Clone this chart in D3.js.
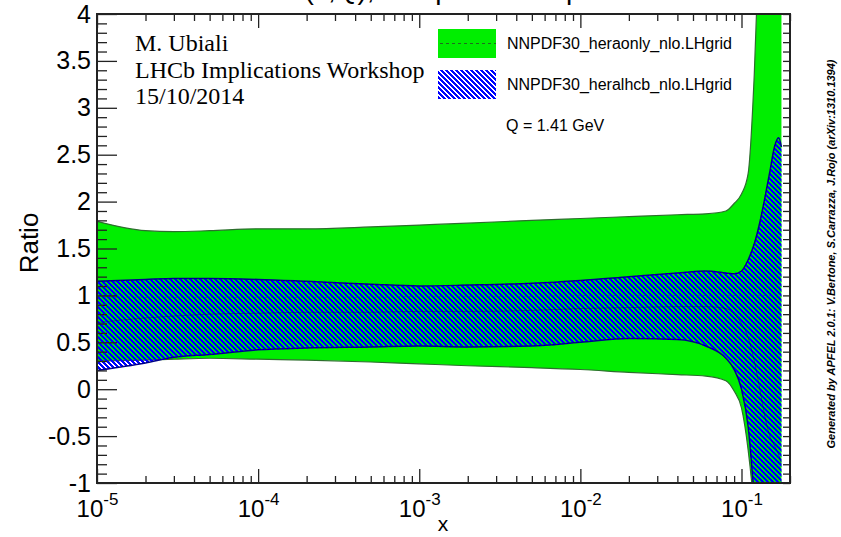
<!DOCTYPE html>
<html>
<head>
<meta charset="utf-8">
<script src="https://cdn.jsdelivr.net/npm/d3@7/dist/d3.min.js"></script>
<style>
  html, body { margin: 0; padding: 0; background: #fff; }
  svg { display: block; }
  text { font-family: "Liberation Sans", Arial, Helvetica, sans-serif; fill: #000; }
  .serif { font-family: "Liberation Serif", "Times New Roman", serif; }
</style>
</head>
<body>
<svg id="chart" width="841" height="537"></svg>
<script>
// x grid shared by both PDF sets
const xValues = [1e-5, 2e-5, 3e-5, 5e-5, 1e-4, 2e-4, 5e-4, 1e-3, 2e-3, 5e-3,
                 1e-2, 2e-2, 4e-2, 6e-2, 8e-2, 0.09, 0.10, 0.11, 0.12, 0.13,
                 0.14, 0.15, 0.16, 0.17, 0.177];

// NNPDF30_heraonly_nlo: ratio band (upper / lower / central)
const heraonlyUpper = [1.79, 1.69, 1.68, 1.69, 1.71, 1.71, 1.73, 1.75, 1.77, 1.80,
                       1.82, 1.84, 1.86, 1.87, 1.90, 1.98, 2.08, 2.30, 3.35, 5.00,
                       6.00, 7.00, 8.00, 9.00, 9.50];
const heraonlyLower = [0.30, 0.31, 0.32, 0.33, 0.32, 0.31, 0.29, 0.27, 0.25, 0.23,
                       0.21, 0.18, 0.155, 0.14, 0.09, -0.02, -0.20, -0.65, -1.30, -2.20,
                       -3.00, -3.80, -4.50, -5.20, -5.60];
const heraonlyCentral = [0.98, 0.98, 0.98, 0.98, 0.98, 0.98, 0.98, 0.99, 0.99, 0.99,
                         1.00, 1.00, 1.00, 1.00, 1.00, 1.00, 1.00, 1.00, 1.00, 1.00,
                         1.00, 1.00, 1.00, 1.00, 1.00];

// NNPDF30_heralhcb_nlo: ratio band (upper / lower / central)
const heralhcbUpper = [1.15, 1.17, 1.18, 1.18, 1.17, 1.15, 1.12, 1.10, 1.11, 1.13,
                       1.16, 1.20, 1.24, 1.26, 1.24, 1.23, 1.26, 1.38, 1.55, 1.78,
                       2.05, 2.32, 2.58, 2.68, 2.58];
const heralhcbLower = [0.20, 0.28, 0.34, 0.37, 0.42, 0.44, 0.45, 0.46, 0.45, 0.46,
                       0.50, 0.54, 0.53, 0.46, 0.33, 0.21, 0.00, -0.40, -1.15, -1.90,
                       -2.60, -3.20, -3.80, -4.30, -4.60];
const heralhcbCentral = [0.71, 0.76, 0.78, 0.80, 0.81, 0.82, 0.82, 0.83, 0.83, 0.84,
                         0.86, 0.87, 0.88, 0.88, 0.86, 0.80, 0.70, 0.55, 0.30, 0.00,
                         -0.30, -0.50, -0.60, -0.70, -0.80];

// axis ticks
const xMajorTicks = [1e-5, 1e-4, 1e-3, 1e-2, 1e-1];
const yMajorTicks = [-1, -0.5, 0, 0.5, 1, 1.5, 2, 2.5, 3, 3.5, 4];

// text
const seriesNames = ["NNPDF30_heraonly_nlo.LHgrid", "NNPDF30_heralhcb_nlo.LHgrid"];
const scaleLabel = "Q = 1.41 GeV";
const authorLines = ["M. Ubiali", "LHCb Implications Workshop", "15/10/2014"];
const titleText = "xd(x,Q), comparison of pdfs";
const creditText = "Generated by APFEL 2.0.1: V.Bertone, S.Carrazza, J.Rojo (arXiv:1310.1394)";

const W = 841, H = 537;
const frame = { left: 97, right: 790, top: 14, bottom: 483 };
const green = "#00ee00";
const blue = "#0000ff";

const svg = d3.select("#chart");

const x = d3.scaleLog().domain([1e-5, 0.2]).range([frame.left, frame.right]);
const y = d3.scaleLinear().domain([-1, 4]).range([frame.bottom, frame.top]);

const rows = xValues.map((xv, i) => ({
  x: xv,
  gU: heraonlyUpper[i], gL: heraonlyLower[i], gC: heraonlyCentral[i],
  bU: heralhcbUpper[i], bL: heralhcbLower[i], bC: heralhcbCentral[i]
}));

const curve = d3.curveMonotoneX;
const area = (lo, hi) => d3.area().curve(curve)
  .x(d => x(d.x)).y0(d => y(d[lo])).y1(d => y(d[hi]));
const line = key => d3.line().curve(curve).x(d => x(d.x)).y(d => y(d[key]));

const defs = svg.append("defs");
defs.append("clipPath").attr("id", "plotClip")
  .append("rect")
  .attr("x", frame.left).attr("y", frame.top)
  .attr("width", frame.right - frame.left).attr("height", frame.bottom - frame.top);
defs.append("clipPath").attr("id", "lhcbClip")
  .append("path").attr("d", area("bL", "bU")(rows));
defs.append("clipPath").attr("id", "legendHatchClip")
  .append("rect").attr("x", 438).attr("y", 70).attr("width", 58).attr("height", 29);

// pixel-exact "\" hatching: one dashed scanline per pixel row, shifted by one pixel each row
const HATCH_ON = 3, HATCH_OFF = 2, HATCH_P = HATCH_ON + HATCH_OFF;
function hatch(g, x0, y0, x1, y1) {
  const scan = d3.range(Math.floor(y0), Math.ceil(y1));
  g.selectAll("line").data(scan).join("line")
    .attr("x1", 0).attr("x2", W)
    .attr("y1", r => r + 0.5).attr("y2", r => r + 0.5)
    .attr("stroke", blue).attr("stroke-width", 1)
    .attr("stroke-dasharray", `${HATCH_ON} ${HATCH_OFF}`)
    .attr("stroke-dashoffset", r => (HATCH_P - (r % HATCH_P)) % HATCH_P)
    .attr("shape-rendering", "crispEdges");
}

const plot = svg.append("g").attr("clip-path", "url(#plotClip)");

// heraonly band
plot.append("path")
  .attr("d", area("gL", "gU")(rows))
  .attr("fill", green);
plot.append("path").attr("d", line("gU")(rows))
  .attr("fill", "none").attr("stroke", "#2d6e2d").attr("stroke-width", 1.2);
plot.append("path").attr("d", line("gL")(rows))
  .attr("fill", "none").attr("stroke", "#2d6e2d").attr("stroke-width", 1.2);
plot.append("path").attr("d", line("gC")(rows))
  .attr("fill", "none").attr("stroke", "#1f5f1f").attr("stroke-width", 0.8)
  .attr("stroke-dasharray", "3,3").attr("opacity", 0.5);

// heralhcb band: hatching clipped to the band
const hatchG = plot.append("g").attr("clip-path", "url(#lhcbClip)");
hatch(hatchG, frame.left, frame.top, frame.right, frame.bottom);
plot.append("path").attr("d", line("bU")(rows))
  .attr("fill", "none").attr("stroke", "#00008b").attr("stroke-width", 1.5);
plot.append("path").attr("d", line("bL")(rows))
  .attr("fill", "none").attr("stroke", "#00008b").attr("stroke-width", 1.5);
plot.append("path").attr("d", line("bC")(rows))
  .attr("fill", "none").attr("stroke", "#00006a").attr("stroke-width", 0.8).attr("opacity", 0.5);

// minor tick positions
const xMinor = [];
for (let e = -5; e <= -1; e++) {
  for (let m = 2; m <= 9; m++) {
    const v = m * Math.pow(10, e);
    if (v <= 0.2 + 1e-12) xMinor.push(v);
  }
}
const yMinor = d3.range(-10, 41).map(v => v / 10).filter(v => Math.abs(v * 2 - Math.round(v * 2)) > 1e-6);
const yAll = d3.range(-10, 41).map(v => v / 10);

const axisColor = "#222";
function styleAxis(g) {
  g.select(".domain").remove();
  g.selectAll(".tick line").attr("stroke", axisColor).attr("stroke-width", 1.3);
}

// bottom axis with 10^n labels
const gx = svg.append("g").attr("transform", `translate(0,${frame.bottom})`)
  .call(d3.axisBottom(x).tickValues(xMajorTicks).tickSize(-14).tickSizeOuter(0).tickPadding(0).tickFormat(() => ""));
styleAxis(gx);
gx.selectAll(".tick text").remove();
gx.selectAll(".tick").each(function (d) {
  const t = d3.select(this).append("text")
    .attr("y", 34).attr("text-anchor", "middle")
    .attr("font-size", 24).attr("fill", "#000");
  t.append("tspan").text("10");
  t.append("tspan").attr("dy", -12).attr("font-size", 17).text(String(Math.round(Math.log10(d))));
});
svg.append("g").attr("transform", `translate(0,${frame.bottom})`)
  .call(d3.axisBottom(x).tickValues(xMinor).tickSize(-7).tickSizeOuter(0).tickFormat(() => ""))
  .call(styleAxis);

// top axis
svg.append("g").attr("transform", `translate(0,${frame.top})`)
  .call(d3.axisTop(x).tickValues(xMajorTicks).tickSize(-14).tickSizeOuter(0).tickFormat(() => ""))
  .call(styleAxis);
svg.append("g").attr("transform", `translate(0,${frame.top})`)
  .call(d3.axisTop(x).tickValues(xMinor).tickSize(-7).tickSizeOuter(0).tickFormat(() => ""))
  .call(styleAxis);

// left axis
const gy = svg.append("g").attr("transform", `translate(${frame.left},0)`)
  .call(d3.axisLeft(y).tickValues(yMajorTicks).tickSize(-20).tickSizeOuter(0).tickPadding(6)
    .tickFormat(d => String(d)));
styleAxis(gy);
gy.selectAll(".tick text").attr("font-size", 25).attr("fill", "#000")
  .attr("font-family", "'Liberation Sans', Arial, sans-serif");
svg.append("g").attr("transform", `translate(${frame.left},0)`)
  .call(d3.axisLeft(y).tickValues(yMinor).tickSize(-10).tickSizeOuter(0).tickFormat(() => ""))
  .call(styleAxis);

// right axis
svg.append("g").attr("transform", `translate(${frame.right},0)`)
  .call(d3.axisRight(y).tickValues(yAll).tickSize(-7).tickSizeOuter(0).tickFormat(() => ""))
  .call(styleAxis);

// frame
svg.append("rect")
  .attr("x", frame.left).attr("y", frame.top)
  .attr("width", frame.right - frame.left).attr("height", frame.bottom - frame.top)
  .attr("fill", "none").attr("stroke", axisColor).attr("stroke-width", 2);

// axis titles
svg.append("text").attr("x", 443).attr("y", 531).attr("text-anchor", "middle")
  .attr("font-size", 21).text("x");
svg.append("text").attr("transform", "translate(38,243) rotate(-90)")
  .attr("text-anchor", "middle").attr("font-size", 26).text("Ratio");

// plot title (runs off the top edge)
svg.append("text").attr("x", 275).attr("y", -1).attr("font-size", 28).text(titleText);

// author block
authorLines.forEach((s, i) => {
  svg.append("text").attr("class", "serif")
    .attr("x", 135).attr("y", 51 + i * 26.5)
    .attr("font-size", 24).text(s);
});

// legend
const lg = svg.append("g");
lg.append("rect").attr("x", 438).attr("y", 29).attr("width", 58).attr("height", 29).attr("fill", green);
lg.append("line").attr("x1", 440).attr("x2", 496).attr("y1", 43.5).attr("y2", 43.5)
  .attr("stroke", "#1f6b1f").attr("stroke-width", 1).attr("stroke-dasharray", "3,3");
const lgHatch = lg.append("g").attr("clip-path", "url(#legendHatchClip)");
hatch(lgHatch, 438, 70, 496, 99);
lg.append("text").attr("x", 507).attr("y", 49).attr("font-size", 16).text(seriesNames[0]);
lg.append("text").attr("x", 507).attr("y", 90).attr("font-size", 16).text(seriesNames[1]);
lg.append("text").attr("x", 506).attr("y", 131).attr("font-size", 16).text(scaleLabel);

// vertical credit line
svg.append("text").attr("transform", "translate(835,254) rotate(-90)")
  .attr("text-anchor", "middle").attr("font-size", 11)
  .attr("font-style", "italic").attr("font-weight", "bold")
  .text(creditText);
</script>
</body>
</html>
